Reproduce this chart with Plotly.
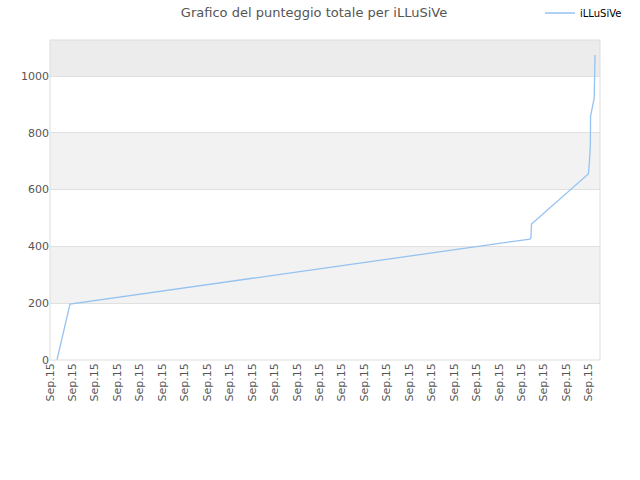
import plotly.graph_objects as go

# Data (x in tick-slot units, y = total score)
x_pos = [0.31, 0.89, 21.38, 21.42, 21.45, 23.98, 24.02, 24.07, 24.08, 24.13, 24.17, 24.24, 24.28]
scores = [0, 197, 426, 430, 479, 655, 687, 755, 859, 880, 898, 921, 1074]
tick_positions = list(range(25))
tick_labels = ["Sep.15"] * 25
series_name = "iLLuSiVe"
title_text = "Grafico del punteggio totale per iLLuSiVe"

font_family = "DejaVu Sans"

fig = go.Figure()
fig.add_trace(go.Scatter(
    x=x_pos, y=scores, mode="lines", name=series_name,
    line=dict(color="#95c3f0", width=1.3),
))

band_specs = [(200, 400, "#f2f2f2"), (600, 800, "#f2f2f2"), (1000, 1127, "#ececec")]
shapes = [dict(type="rect", xref="paper", yref="y", x0=0, x1=1, y0=a, y1=b,
               fillcolor=c, line=dict(width=0), layer="below") for a, b, c in band_specs]
shapes.append(dict(type="rect", xref="paper", yref="paper", x0=0, x1=1, y0=0, y1=1,
                   line=dict(color="#dddddd", width=1), layer="above"))

fig.update_layout(
    width=640, height=480,
    margin=dict(l=50, r=40, t=40, b=120, autoexpand=False),
    paper_bgcolor="white", plot_bgcolor="white",
    font=dict(family=font_family, size=11, color="#555555"),
    title=dict(text=title_text, x=314 / 640, xanchor="center", xref="container",
               y=1 - 12 / 480, yanchor="middle", yref="container",
               font=dict(family=font_family, size=13, color="#555555")),
    showlegend=True,
    legend=dict(xref="container", yref="container", x=540 / 640, xanchor="left",
                y=1 - 13 / 480, yanchor="middle",
                font=dict(family=font_family, size=10, color="#000000"),
                bgcolor="rgba(0,0,0,0)"),
    shapes=shapes,
    xaxis=dict(range=[0, 24.5], tickmode="array", tickvals=tick_positions, ticktext=tick_labels,
               tickangle=-90, showgrid=False, zeroline=False, showline=False, automargin=False,
               ticks="", tickfont=dict(size=11, color="#555555")),
    yaxis=dict(range=[0, 1127], tickmode="array", tickvals=[0, 200, 400, 600, 800, 1000],
               showgrid=True, gridcolor="#e0e0e0", gridwidth=1, zeroline=False, showline=False,
               automargin=False, ticks="", tickfont=dict(size=11, color="#555555")),
)

fig.write_html("out.html", config={"displayModeBar": False},
               post_script="document.body.style.margin='0px';")
